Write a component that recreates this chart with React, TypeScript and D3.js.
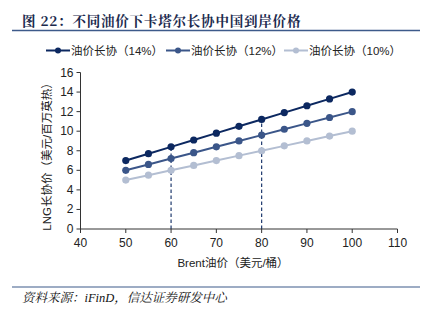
import React from "react";
import * as d3 from "d3";

const brent = [50, 55, 60, 65, 70, 75, 80, 85, 90, 95, 100];
const s14 = [7.0, 7.7, 8.4, 9.1, 9.8, 10.5, 11.2, 11.9, 12.6, 13.3, 14.0];
const s12 = [6.0, 6.6, 7.2, 7.8, 8.4, 9.0, 9.6, 10.2, 10.8, 11.4, 12.0];
const s10 = [5.0, 5.5, 6.0, 6.5, 7.0, 7.5, 8.0, 8.5, 9.0, 9.5, 10.0];
const seriesNames = ["油价长协（14%）", "油价长协（12%）", "油价长协（10%）"];
const xTicks = [40, 50, 60, 70, 80, 90, 100, 110];
const yTicks = [0, 2, 4, 6, 8, 10, 12, 14, 16];
const refX = [60, 80];

const colors = ["#0c2860", "#3b5689", "#b3bed2"];
const font = "'Liberation Sans', Arial, 'Noto Sans CJK SC', sans-serif";

export default function App() {
  const W = 428, H = 322;
  const x = d3.scaleLinear().domain([40, 110]).range([80.5, 397.5]);
  const y = d3.scaleLinear().domain([0, 16]).range([229, 72.5]);
  const line = d3.line<number>().x((_, i) => x(brent[i])).y((d) => y(d));
  const series = [s14, s12, s10];
  const legendX = [46, 166, 284];
  const axisColor = "#333";
  return (
    <svg width={W} height={H} style={{ position: "absolute", left: 0, top: 0, background: "#fff" }}>
      <text x={22} y={26} fontSize={13.5} fontWeight="bold" fill="#1b2a4e"
        fontFamily="'Noto Serif CJK SC', 'Noto Sans CJK SC', serif" letterSpacing={0.8}>
        图 22：不同油价下卡塔尔长协中国到岸价格
      </text>
      <line x1={12} x2={420} y1={30.5} y2={30.5} stroke="#3d5a8a" strokeWidth={1.5} />
      {seriesNames.map((n, i) => (
        <g key={n}>
          <line x1={legendX[i]} x2={legendX[i] + 24} y1={50.5} y2={50.5} stroke={colors[i]} strokeWidth={2} />
          <circle cx={legendX[i] + 12} cy={50.5} r={3} fill={colors[i]} />
          <text x={legendX[i] + 25} y={55} fontSize={11.5} fill="#222" fontFamily={font}>{n}</text>
        </g>
      ))}
      {refX.map((v) => (
        <line key={v} x1={x(v)} x2={x(v)} y1={y(0)} y2={y(s14[brent.indexOf(v)])}
          stroke="#1f3a6e" strokeWidth={1.2} strokeDasharray="3.5,2.5" />
      ))}
      {series.map((s, i) => (
        <g key={i}>
          <path d={line(s) || ""} fill="none" stroke={colors[i]} strokeWidth={2} />
          {s.map((v, j) => (
            <circle key={j} cx={x(brent[j])} cy={y(v)} r={3.6} fill={colors[i]} />
          ))}
        </g>
      ))}
      <line x1={x(40)} x2={x(40)} y1={y(0)} y2={y(16)} stroke={axisColor} strokeWidth={1} />
      <line x1={x(40)} x2={x(110)} y1={y(0)} y2={y(0)} stroke={axisColor} strokeWidth={1} />
      {yTicks.map((t) => (
        <g key={t}>
          <line x1={x(40) - 4} x2={x(40)} y1={y(t)} y2={y(t)} stroke={axisColor} />
          <text x={x(40) - 7} y={y(t) + 4} fontSize={12} textAnchor="end" fill="#222" fontFamily={font}>{t}</text>
        </g>
      ))}
      {xTicks.map((t) => (
        <g key={t}>
          <line x1={x(t)} x2={x(t)} y1={y(0)} y2={y(0) + 4} stroke={axisColor} />
          <text x={x(t)} y={y(0) + 18} fontSize={12} textAnchor="middle" fill="#222" fontFamily={font}>{t}</text>
        </g>
      ))}
      <text x={233} y={267} fontSize={11.5} textAnchor="middle" fill="#222" fontFamily={font}>Brent油价（美元/桶）</text>
      <text transform={`translate(51,154) rotate(-90)`} fontSize={11.5} textAnchor="middle" fill="#222" fontFamily={font}>
        LNG长协价（美元/百万英热）
      </text>
      <line x1={12} x2={420} y1={287} y2={287} stroke="#3d5a8a" strokeWidth={1.2} />
      <text x={22} y={302} fontSize={12.5} fontStyle="italic" fill="#111"
        fontFamily="'Liberation Serif', 'Noto Serif CJK SC', 'Noto Sans CJK SC', serif">
        资料来源：iFinD，信达证券研发中心
      </text>
    </svg>
  );
}
